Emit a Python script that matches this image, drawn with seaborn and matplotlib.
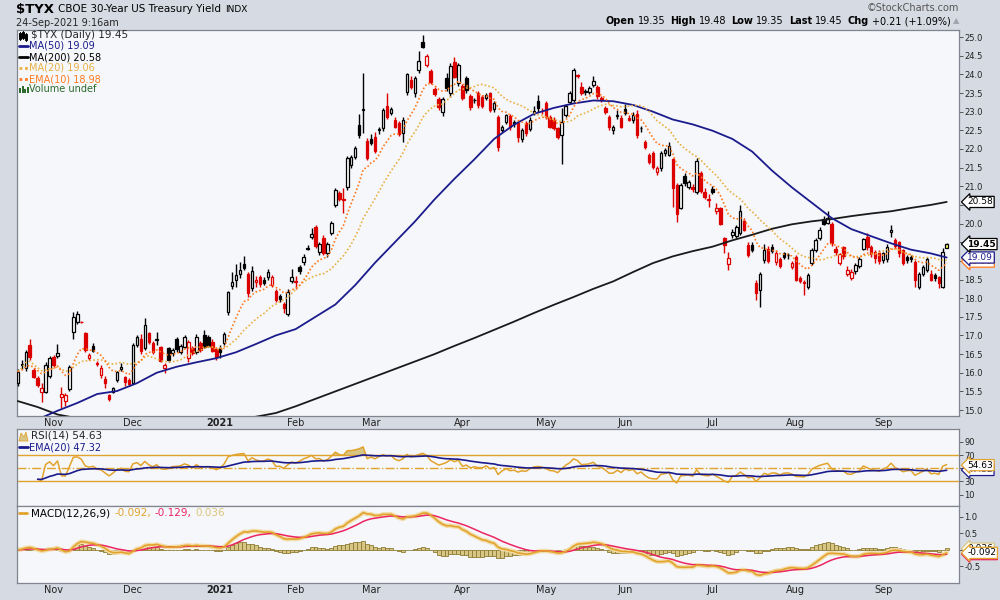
import matplotlib
matplotlib.use("Agg")
import matplotlib.pyplot as plt
from matplotlib.lines import Line2D
from matplotlib.patches import Rectangle
import numpy as np
import pandas as pd
import seaborn as sns

# daily candles for $TYX, 20-Oct-2020 .. 24-Sep-2021
opens = [
    15.72, 16.20, 16.14, 16.74, 16.07, 15.85, 15.49, 15.49, 15.91, 16.41,
    16.45, 15.36, 15.25, 15.56, 17.10, 17.37, 17.36, 17.06, 16.39, 16.72,
    16.25, 15.93, 15.84, 15.39, 15.49, 15.80, 16.09, 15.89, 15.80, 15.72,
    16.74, 16.90, 16.67, 17.06, 16.80, 16.88, 16.68, 16.13, 16.65, 16.52,
    16.90, 16.56, 16.70, 16.39, 16.67, 16.55, 16.79, 17.01, 16.95, 16.83,
    16.63, 16.67, 16.81, 17.63, 18.33, 18.50, 18.64, 18.91, 18.64, 18.28,
    18.42, 18.56, 18.50, 18.56, 18.35, 18.19, 18.05, 17.85, 17.57, 18.47,
    18.45, 18.84, 18.97, 19.35, 19.64, 19.90, 19.24, 19.62, 19.20, 19.76,
    20.50, 20.81, 20.66, 20.99, 21.57, 21.79, 22.64, 23.05, 22.21, 22.27,
    22.33, 22.50, 22.55, 23.15, 22.97, 22.79, 22.70, 22.42, 23.54, 23.85,
    23.49, 24.13, 24.86, 24.25, 24.10, 23.60, 23.33, 23.00, 23.89, 23.49,
    24.32, 23.78, 23.69, 23.89, 23.42, 23.30, 23.49, 23.40, 23.36, 23.49,
    23.06, 22.86, 22.51, 22.73, 22.88, 22.71, 22.70, 22.28, 22.69, 22.53,
    23.00, 23.29, 23.02, 23.22, 22.85, 22.79, 22.55, 22.37, 22.91, 23.27,
    23.31, 23.98, 23.65, 23.52, 23.54, 23.71, 23.65, 23.36, 23.09, 22.85,
    22.51, 22.88, 22.82, 23.06, 22.82, 22.79, 22.94, 22.55, 22.18, 21.84,
    21.88, 21.39, 21.48, 21.88, 21.84, 21.72, 21.03, 20.43, 21.27, 20.99,
    20.99, 20.85, 21.35, 20.85, 20.66, 20.92, 20.34, 20.41, 19.60, 18.91,
    19.69, 19.67, 19.74, 20.07, 19.42, 19.42, 18.41, 18.22, 19.02, 19.33,
    19.38, 18.98, 19.04, 19.20, 19.16, 18.84, 19.09, 18.55, 18.42, 18.31,
    18.95, 19.29, 19.60, 20.11, 20.02, 20.00, 19.33, 18.93, 19.36, 18.66,
    18.53, 18.72, 18.86, 19.33, 19.65, 19.38, 19.25, 19.22, 19.02, 19.04,
    19.78, 19.57, 19.50, 19.29, 19.11, 19.11, 18.98, 18.31, 18.66, 18.75,
    18.65, 18.62, 18.57, 18.31, 19.35,
]
highs = [
    16.10, 16.35, 16.62, 16.90, 16.12, 15.90, 15.72, 16.28, 16.45, 16.48,
    16.77, 15.62, 15.45, 16.20, 17.64, 17.65, 17.38, 17.10, 16.52, 16.80,
    16.32, 16.20, 15.90, 15.42, 15.62, 16.06, 16.25, 15.92, 15.85, 16.80,
    17.00, 17.05, 17.47, 17.10, 16.85, 17.10, 16.72, 16.25, 16.70, 16.65,
    16.95, 16.78, 17.00, 16.88, 16.72, 17.05, 16.85, 17.15, 17.00, 16.90,
    16.68, 16.75, 17.10, 18.20, 18.71, 18.91, 18.97, 19.12, 18.70, 18.86,
    18.60, 18.62, 18.58, 18.78, 18.62, 18.25, 18.12, 17.90, 18.25, 18.77,
    18.60, 18.90, 19.18, 19.42, 19.87, 19.95, 19.50, 19.68, 19.50, 20.08,
    20.95, 20.88, 20.95, 21.80, 21.85, 22.08, 22.95, 24.03, 22.30, 22.40,
    22.45, 22.60, 23.10, 23.49, 23.12, 22.85, 22.75, 22.85, 24.05, 23.95,
    23.95, 24.64, 25.05, 24.55, 24.15, 23.65, 23.40, 23.40, 24.05, 24.30,
    24.46, 24.30, 23.75, 23.95, 23.48, 23.38, 23.55, 23.45, 23.50, 23.52,
    23.28, 22.92, 22.65, 22.95, 22.95, 22.78, 22.75, 22.55, 22.75, 22.85,
    23.15, 23.45, 23.10, 23.28, 22.92, 22.85, 22.60, 23.10, 23.20, 23.55,
    24.18, 24.02, 23.80, 23.62, 23.70, 23.95, 23.72, 23.42, 23.15, 22.90,
    22.65, 23.05, 22.90, 23.20, 22.90, 22.98, 23.05, 22.62, 22.25, 21.90,
    21.95, 21.55, 21.95, 22.02, 22.20, 21.75, 21.10, 21.10, 21.35, 21.18,
    21.05, 21.75, 21.40, 20.95, 20.80, 21.00, 20.55, 20.45, 19.65, 19.25,
    19.85, 19.95, 20.50, 20.15, 19.50, 19.50, 18.50, 18.70, 19.45, 19.40,
    19.45, 19.28, 19.10, 19.25, 19.22, 19.00, 19.15, 18.60, 18.50, 18.68,
    19.35, 19.60, 19.90, 20.20, 20.34, 20.05, 19.40, 19.22, 19.40, 18.85,
    18.78, 18.95, 19.10, 19.62, 19.75, 19.42, 19.30, 19.28, 19.25, 19.45,
    19.96, 19.60, 19.52, 19.33, 19.15, 19.15, 19.02, 18.70, 18.90, 19.10,
    18.75, 18.68, 18.60, 19.35, 19.48,
]
lows = [
    15.65, 16.10, 16.05, 16.35, 15.85, 15.62, 15.22, 15.45, 15.85, 16.15,
    16.40, 15.05, 15.10, 15.50, 16.90, 17.30, 17.33, 16.55, 16.35, 16.55,
    16.18, 15.85, 15.58, 15.25, 15.45, 15.76, 16.05, 15.65, 15.65, 15.70,
    16.70, 16.50, 16.60, 16.78, 16.50, 16.75, 16.30, 16.00, 16.30, 16.45,
    16.55, 16.50, 16.65, 16.30, 16.48, 16.50, 16.55, 16.65, 16.68, 16.55,
    16.34, 16.40, 16.75, 17.55, 18.25, 18.29, 18.55, 18.75, 18.04, 18.20,
    18.30, 18.30, 18.35, 18.50, 18.30, 17.90, 17.90, 17.59, 17.52, 18.40,
    18.25, 18.65, 18.90, 19.28, 19.58, 19.35, 19.15, 19.15, 19.10, 19.70,
    20.45, 20.60, 20.29, 20.90, 21.50, 21.72, 22.30, 22.42, 21.70, 22.10,
    21.90, 22.40, 22.48, 22.80, 22.90, 22.55, 22.35, 22.20, 23.45, 23.60,
    23.40, 24.05, 24.70, 24.20, 23.75, 23.42, 23.05, 22.88, 23.55, 23.40,
    23.90, 23.70, 23.30, 23.50, 23.05, 23.22, 23.10, 23.10, 23.30, 22.98,
    23.00, 21.95, 22.45, 22.68, 22.50, 22.60, 22.20, 22.20, 22.35, 22.48,
    22.90, 23.00, 22.95, 22.80, 22.55, 22.50, 22.28, 21.60, 22.85, 23.20,
    23.25, 23.90, 23.45, 23.45, 23.48, 23.65, 23.35, 23.25, 22.95, 22.50,
    22.40, 22.80, 22.55, 22.90, 22.75, 22.70, 22.30, 22.45, 22.00, 21.60,
    21.45, 21.30, 21.42, 21.82, 21.80, 20.45, 20.05, 20.38, 21.00, 20.92,
    20.85, 20.80, 20.82, 20.65, 20.45, 20.80, 20.25, 19.95, 19.20, 18.75,
    19.60, 19.60, 19.70, 19.80, 19.10, 19.25, 17.95, 17.76, 18.95, 18.95,
    19.20, 18.90, 18.80, 19.05, 19.05, 18.78, 18.45, 18.40, 18.08, 18.25,
    18.88, 19.25, 19.55, 19.95, 19.98, 19.40, 19.15, 18.88, 19.05, 18.60,
    18.48, 18.65, 18.82, 19.28, 19.30, 19.10, 18.95, 18.92, 18.95, 18.98,
    19.65, 19.35, 19.10, 18.88, 18.95, 18.98, 18.30, 18.25, 18.60, 18.70,
    18.45, 18.45, 18.27, 18.28, 19.35,
]
closes = [
    16.03, 16.23, 16.56, 16.41, 15.88, 15.67, 15.60, 16.22, 16.39, 16.21,
    16.52, 15.42, 15.40, 16.16, 17.50, 17.57, 17.35, 16.61, 16.47, 16.58,
    16.23, 16.14, 15.73, 15.29, 15.59, 16.02, 16.16, 15.75, 15.70, 16.74,
    16.95, 16.58, 17.28, 16.83, 16.56, 16.90, 16.32, 16.22, 16.35, 16.61,
    16.63, 16.72, 16.97, 16.83, 16.52, 16.95, 16.61, 16.70, 16.72, 16.59,
    16.41, 16.56, 17.03, 18.17, 18.42, 18.62, 18.75, 18.81, 18.14, 18.72,
    18.50, 18.37, 18.40, 18.69, 18.56, 17.95, 17.97, 17.74, 18.17, 18.56,
    18.44, 18.73, 19.09, 19.33, 19.71, 19.40, 19.44, 19.21, 19.44, 20.01,
    20.90, 20.67, 20.62, 21.75, 21.79, 22.02, 22.37, 23.07, 21.77, 22.17,
    21.95, 22.53, 23.04, 22.85, 23.06, 22.60, 22.40, 22.79, 24.01, 23.65,
    23.89, 24.36, 24.74, 24.49, 23.80, 23.47, 23.12, 23.33, 23.63, 24.22,
    23.94, 24.25, 23.36, 23.58, 23.13, 23.31, 23.18, 23.15, 23.46, 23.04,
    23.22, 22.04, 22.58, 22.91, 22.58, 22.66, 22.33, 22.51, 22.42, 22.78,
    23.03, 23.09, 23.01, 22.85, 22.60, 22.55, 22.33, 22.73, 23.15, 23.49,
    24.13, 23.95, 23.51, 23.55, 23.63, 23.83, 23.42, 23.30, 23.00, 22.58,
    22.60, 22.88, 22.60, 22.96, 22.79, 22.91, 22.37, 22.55, 22.06, 21.66,
    21.52, 21.50, 21.90, 21.97, 22.08, 20.96, 20.25, 21.03, 21.08, 21.12,
    20.92, 21.69, 20.88, 20.70, 20.63, 20.84, 20.43, 20.00, 19.42, 19.07,
    19.78, 19.90, 20.34, 19.84, 19.17, 19.29, 18.13, 18.66, 19.29, 19.00,
    19.27, 19.22, 18.86, 19.11, 19.15, 18.93, 18.50, 18.45, 18.40, 18.62,
    19.29, 19.57, 19.83, 20.00, 20.14, 19.47, 19.23, 19.18, 19.13, 18.75,
    18.70, 18.90, 19.04, 19.58, 19.38, 19.18, 19.07, 19.00, 19.20, 19.38,
    19.82, 19.40, 19.20, 18.93, 19.02, 19.05, 18.48, 18.66, 18.84, 19.06,
    18.50, 18.55, 18.40, 19.24, 19.45,
]

# exchange holidays inside the window
holidays = ["2020-11-26", "2020-12-25", "2021-01-01", "2021-01-18", "2021-02-15",
            "2021-04-02", "2021-05-31", "2021-07-05", "2021-09-06"]

# MA(50) and MA(200) every 5th session (plus the last one)
ma50_read = [14.60, 14.75, 14.98, 15.19, 15.43, 15.51, 15.72, 16.00, 16.16, 16.28,
             16.39, 16.55, 16.77, 17.00, 17.17, 17.50, 17.83, 18.35, 18.95, 19.50,
             20.05, 20.65, 21.20, 21.72, 22.27, 22.65, 22.94, 23.10, 23.22, 23.30,
             23.28, 23.18, 23.00, 22.79, 22.66, 22.49, 22.27, 21.93, 21.42, 20.97,
             20.56, 20.15, 19.85, 19.66, 19.47, 19.30, 19.20, 19.09]
ma200_read = [15.24, 15.08, 14.88, 14.78, 14.72, 14.68, 14.66, 14.65, 14.66, 14.68,
              14.72, 14.76, 14.82, 14.92, 15.10, 15.30, 15.50, 15.70, 15.90, 16.10,
              16.30, 16.50, 16.72, 16.93, 17.15, 17.37, 17.60, 17.82, 18.03, 18.25,
              18.45, 18.70, 18.94, 19.12, 19.26, 19.38, 19.55, 19.70, 19.86, 19.98,
              20.06, 20.12, 20.20, 20.27, 20.33, 20.42, 20.50, 20.58]

sns.set_theme(style="white")
plt.rcParams["font.family"] = ["DejaVu Sans"]

BG = "#d6dae3"
PANEL = "#f5f7fb"
EDGE = "#80858f"
RED = "#dd0000"
NAVY = "#1b1b8c"
GOLD = "#e2a32c"
YEL = "#e9b043"
ORANGE = "#ff7a20"
CRIMSON = "#ec2560"
TAN = "#d8c684"
OLIVE = "#8c7b34"
GREEN = "#2e6b2e"

W, H = 1000, 600
def fx(p):
    return p / W
def fy(p):
    return 1 - p / H

n = len(closes)
sessions = pd.bdate_range("2020-10-20", "2021-09-24")
sessions = sessions[~sessions.isin(pd.to_datetime(holidays))][:n]
df = pd.DataFrame({"date": sessions, "open": opens, "high": highs,
                   "low": lows, "close": closes})
df["x"] = np.arange(n)

# indicators from the closes
c = df["close"]
df["ma20"] = c.rolling(20, min_periods=1).mean()
df["ema10"] = c.ewm(span=10, adjust=False).mean()
d = c.diff()
up = d.clip(lower=0).ewm(alpha=1 / 14, adjust=True, min_periods=5).mean()
dn = (-d.clip(upper=0)).ewm(alpha=1 / 14, adjust=True, min_periods=5).mean()
df["rsi"] = 100 - 100 / (1 + up / dn)
df["rsi_ema"] = df["rsi"].ewm(span=20, adjust=False).mean()
df["macd"] = c.ewm(span=12, adjust=False).mean() - c.ewm(span=26, adjust=False).mean()
df["signal"] = df["macd"].ewm(span=9, adjust=False).mean()
df["hist"] = df["macd"] - df["signal"]
ma_x = list(range(0, n, 5)) + [n - 1]

fig = plt.figure(figsize=(10, 6), dpi=100, facecolor=BG)
L, R = 17, 959
ax = fig.add_axes([fx(L), fy(416), fx(R - L), (416 - 30) / H])
ax_rsi = fig.add_axes([fx(L), fy(506), fx(R - L), (506 - 429) / H])
ax_macd = fig.add_axes([fx(L), fy(583), fx(R - L), (583 - 506) / H])
xlim = (-0.2, (R - 17.7) / 3.97)

# candles
prev = c.shift(1).fillna(c)
ink = np.where(c < prev, RED, "black")
face = np.where(c < df["open"], ink, "white").astype(object)
face[-1] = "#ffff66"
ax.vlines(df["x"], df["low"], df["high"], colors=ink, lw=1.0, zorder=3)
body_lo = np.minimum(df["open"], c)
body_h = np.maximum((c - df["open"]).abs(), 0.02)
ax.bar(df["x"], body_h, bottom=body_lo, width=0.62, color=list(face),
       edgecolor=list(ink), linewidth=0.9, zorder=4)

sns.lineplot(x=ma_x, y=ma200_read, ax=ax, color="#1a1a1a", lw=1.3, zorder=5)
sns.lineplot(x=ma_x, y=ma50_read, ax=ax, color=NAVY, lw=1.3, zorder=5)
sns.lineplot(x=df["x"], y=df["ma20"], ax=ax, color=YEL, lw=1.2,
             linestyle=(0, (1, 1.3)), zorder=5)
sns.lineplot(x=df["x"], y=df["ema10"], ax=ax, color=ORANGE, lw=1.2,
             linestyle=(0, (1, 1.3)), zorder=5)
ax.set_ylim(14.84, 25.19)
yt = np.arange(15, 25.01, 0.5)
ax.set_yticks(yt)
# labels under the value tags stay blank (the tags cover them in the original)
ax.set_yticklabels(["" if round(v, 1) in (19.0, 19.5, 20.5) else f"{v:.1f}" for v in yt])

# RSI panel
ax_rsi.axhline(70, color=GOLD, lw=1)
ax_rsi.axhline(30, color=GOLD, lw=1)
ax_rsi.axhline(50, color=GOLD, lw=1, linestyle="-.")
r = df["rsi"].to_numpy()
ax_rsi.fill_between(df["x"], r, 70, where=r >= 70, interpolate=True, color=TAN, lw=0)
ax_rsi.fill_between(df["x"], r, 30, where=r <= 30, interpolate=True, color=TAN, lw=0)
sns.lineplot(x=df["x"], y=df["rsi"], ax=ax_rsi, color=GOLD, lw=1.1)
sns.lineplot(x=df["x"], y=df["rsi_ema"], ax=ax_rsi, color=NAVY, lw=1.2)
ax_rsi.set_ylim(-7.4, 109.5)
ax_rsi.set_yticks([10, 30, 50, 70, 90])
ax_rsi.set_yticklabels(["10", "30", "", "70", "90"])

# MACD panel
ax_macd.bar(df["x"], df["hist"], width=1.0, color=TAN, edgecolor=OLIVE, linewidth=0.6)
sns.lineplot(x=df["x"], y=df["macd"], ax=ax_macd, color="#f3ddaa", lw=3.2)
sns.lineplot(x=df["x"], y=df["signal"], ax=ax_macd, color=CRIMSON, lw=1.1)
sns.lineplot(x=df["x"], y=df["macd"], ax=ax_macd, color=GOLD, lw=1.2)
ax_macd.set_ylim(-1.0, 1.32)
ax_macd.set_yticks([-0.5, 0.0, 0.5, 1.0])
ax_macd.set_yticklabels(["-0.5", "", "0.5", "1.0"])

# month labels
first = df.groupby([df["date"].dt.year, df["date"].dt.month])["x"].min().iloc[1:]
mlabels = ["2021" if y == 2021 and m == 1 else pd.Timestamp(y, m, 1).strftime("%b")
           for (y, m) in first.index]
for a, show in ((ax, True), (ax_rsi, False), (ax_macd, True)):
    a.set_facecolor(PANEL)
    for s in a.spines.values():
        s.set_color(EDGE)
        s.set_linewidth(0.9)
    a.yaxis.tick_right()
    a.tick_params(axis="y", which="both", direction="out", length=3, width=0.7,
                  color="#555555", pad=1, labelsize=6, labelcolor="#222222",
                  left=False, right=True)
    a.set_xticks(first.to_numpy())
    a.set_xticklabels(mlabels if show else [""] * len(mlabels))
    a.tick_params(axis="x", length=0, pad=1.5, labelsize=7, labelcolor="#222222")
    for t in a.get_xticklabels():
        if t.get_text() == "2021":
            t.set_fontweight("bold")
    a.set_xlim(*xlim)
    a.set_xlabel("")
    a.set_ylabel("")

# value tags on the right edge
def tag(a, val, txt, ec, tc="black", bold=False):
    a.annotate(txt, xy=(1, val), xycoords=("axes fraction", "data"),
               xytext=(6, 0), textcoords="offset points", ha="left", va="center",
               fontsize=6.5, color=tc, fontweight="bold" if bold else "normal",
               bbox=dict(boxstyle="larrow,pad=0.12", fc="white", ec=ec, lw=0.9),
               annotation_clip=False, zorder=10)

tag(ax, 19.06, "19.06", YEL)
tag(ax, 18.98, "18.98", ORANGE, ORANGE)
tag(ax, 19.09, "19.09", NAVY, NAVY)
tag(ax, 19.45, "19.45", "black", bold=True)
tag(ax, 20.58, "20.58", "black")
tag(ax_rsi, 47.32, "47.32", NAVY, NAVY)
tag(ax_rsi, 54.63, "54.63", GOLD)
tag(ax_macd, 0.036, "0.036", TAN)
tag(ax_macd, -0.129, "-0.129", CRIMSON)
tag(ax_macd, -0.092, "-0.092", GOLD)

# text runs placed piece by piece
renderer = fig.canvas.get_renderer()
def run(pieces, x, y, align="left"):
    arts = []
    for txt, color, weight, size, gap in pieces:
        t = fig.text(0, fy(y), txt, fontsize=size, color=color, fontweight=weight,
                     va="center", ha="left")
        arts.append((t, gap))
    widths = [t.get_window_extent(renderer).width + g for t, g in arts]
    pos = x - sum(widths) if align == "right" else x
    for (t, g), w in zip(arts, widths):
        t.set_x(fx(pos))
        pos += w

run([("$TYX", "black", "bold", 9.5, 4),
     ("CBOE 30-Year US Treasury Yield", "black", "normal", 7.5, 4),
     ("INDX", "black", "normal", 6.5, 0)], 16, 9)
fig.text(fx(16), fy(23), "24-Sep-2021 9:16am", fontsize=7, va="center")
fig.text(fx(959), fy(8), "\u00a9StockCharts.com", fontsize=7, color="#555555",
         va="center", ha="right")
run([("Open", "black", "bold", 7, 3), ("19.35", "black", "normal", 7, 5),
     ("High", "black", "bold", 7, 3), ("19.48", "black", "normal", 7, 5),
     ("Low", "black", "bold", 7, 3), ("19.35", "black", "normal", 7, 5),
     ("Last", "black", "bold", 7, 3), ("19.45", "black", "normal", 7, 5),
     ("Chg", "black", "bold", 7, 3), ("+0.21 (+1.09%)", "black", "normal", 7, 2),
     ("\u25b2", "#a0a6b0", "normal", 6, 0)], 959, 21, align="right")

# legend rows inside the price panel
def seg(x0, x1, y, color, lw=2, ls="-"):
    fig.add_artist(Line2D([fx(x0), fx(x1)], [fy(y), fy(y)], color=color, lw=lw,
                          linestyle=ls, transform=fig.transFigure))

for k, (xx, top, bot) in enumerate([(20, 33, 39), (23, 32, 38), (26, 34, 40)]):
    fig.add_artist(Line2D([fx(xx), fx(xx)], [fy(top - 1), fy(bot + 1)], color="black",
                          lw=0.8, transform=fig.transFigure))
    fig.add_artist(Rectangle((fx(xx - 1), fy(bot)), fx(2), (bot - top) / H,
                             fc="black" if k == 1 else "white", ec="black", lw=0.7,
                             transform=fig.transFigure))
fig.text(fx(31), fy(35), "$TYX (Daily) 19.45", fontsize=7.5, va="center")
seg(19, 28, 46, NAVY)
fig.text(fx(29), fy(46), "MA(50) 19.09", fontsize=7, color=NAVY, va="center")
seg(19, 28, 57, "black")
fig.text(fx(29), fy(57), "MA(200) 20.58", fontsize=7, color="black", va="center")
seg(19, 28, 68, YEL, ls=(0, (1, 1)))
fig.text(fx(29), fy(68), "MA(20) 19.06", fontsize=7, color=YEL, va="center")
seg(19, 28, 79, ORANGE, ls=(0, (1, 1)))
fig.text(fx(29), fy(79), "EMA(10) 18.98", fontsize=7, color=ORANGE, va="center")
for xx, hh in ((20, 5), (22.5, 7), (25, 4), (27.5, 6)):
    fig.add_artist(Rectangle((fx(xx - 0.8), fy(93)), fx(1.8), hh / H, fc=GREEN, lw=0,
                             transform=fig.transFigure))
fig.text(fx(29), fy(89), "Volume undef", fontsize=7, color=GREEN, va="center")

# RSI / MACD legends
fig.add_artist(plt.Polygon([(fx(19), fy(441)), (fx(21), fy(433)), (fx(24), fy(437)),
                            (fx(26), fy(432)), (fx(28), fy(441))], closed=True,
                           fc=TAN, ec=GOLD, lw=0.6, transform=fig.transFigure))
fig.text(fx(31), fy(436), "RSI(14) 54.63", fontsize=7.5, va="center")
seg(19, 28, 447, NAVY)
fig.text(fx(29), fy(447), "EMA(20) 47.32", fontsize=7, color=NAVY, va="center")
seg(19, 27, 513, GOLD)
run([("MACD(12,26,9)", "black", "normal", 7.5, 4), ("-0.092,", GOLD, "normal", 7.5, 4),
     ("-0.129,", CRIMSON, "normal", 7.5, 4), ("0.036", "#dcc47a", "normal", 7.5, 0)],
    31, 513)

fig.savefig("out.png", dpi=100, facecolor=BG)
